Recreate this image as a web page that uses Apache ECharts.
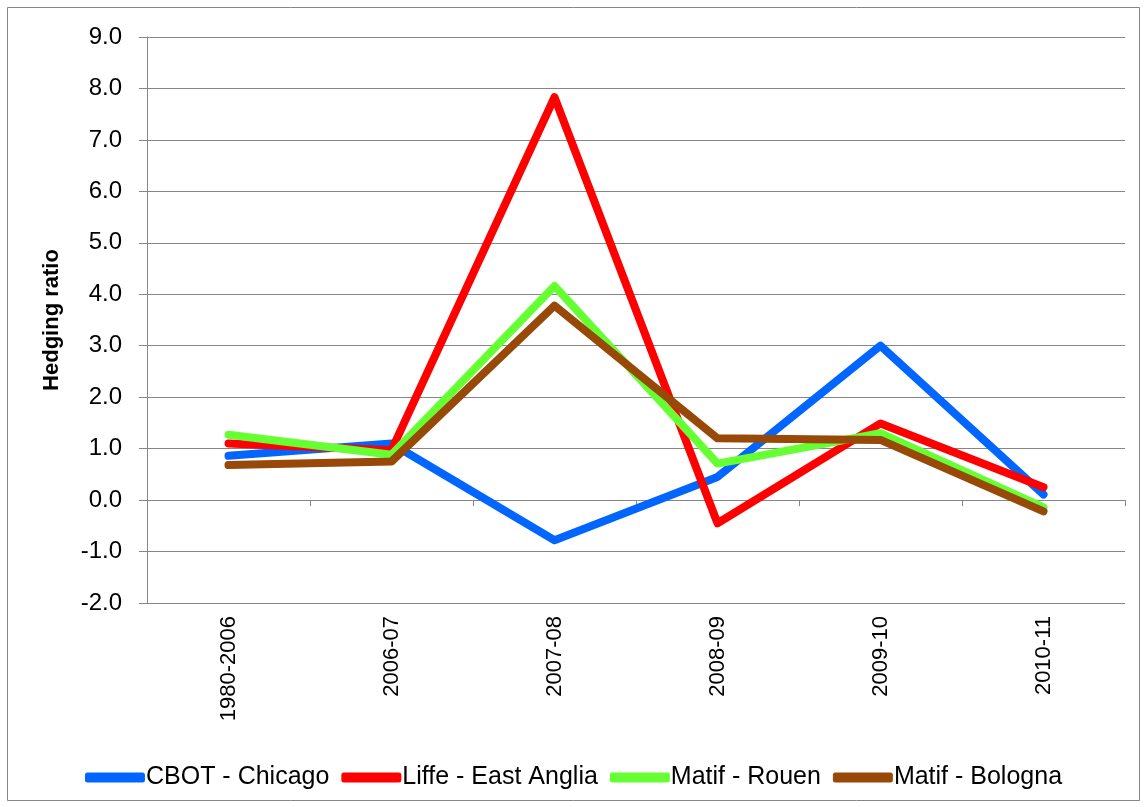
<!DOCTYPE html>
<html>
<head>
<meta charset="utf-8">
<script src="https://cdn.jsdelivr.net/npm/echarts@6/dist/echarts.min.js"></script>
<style>
  html, body { margin: 0; padding: 0; background: #fff; }
  #main { width: 1147px; height: 807px; }
</style>
</head>
<body>
<div id="main"></div>
<script>
const categories = ['1980-2006', '2006-07', '2007-08', '2008-09', '2009-10', '2010-11']
const cbotChicago = [0.86, 1.1, -0.78, 0.45, 3.0, 0.11]
const liffeEastAnglia = [1.1, 0.97, 7.83, -0.45, 1.49, 0.25]
const matifRouen = [1.27, 0.88, 4.16, 0.71, 1.3, -0.14]
const matifBologna = [0.68, 0.75, 3.78, 1.2, 1.17, -0.22]

const chart = echarts.init(document.getElementById('main'))
const font = 'Liberation Sans, Arial, sans-serif'
const grey = '#868686'

function line(name, color, data) {
  return {
    name, type: 'line', data,
    xAxisIndex: 0,
    showSymbol: false, symbol: 'none',
    lineStyle: { color, width: 8, cap: 'round', join: 'round' },
    itemStyle: { color },
    animation: false
  }
}

const option = {
  animation: false,
  graphic: [{
    type: 'rect', shape: { x: 7.5, y: 7.5, width: 1132, height: 793 },
    style: { fill: 'none', stroke: grey, lineWidth: 1 }, silent: true
  }],
  grid: { left: 147, right: 22, top: 37, bottom: 204 },
  legend: {
    top: 760, left: 'center',
    itemWidth: 60, itemHeight: 10, itemGap: 12,
    icon: 'roundRect',
    textStyle: { fontFamily: font, fontSize: 25, color: '#000', padding: [0, 0, 0, -4] },
    data: ['CBOT - Chicago', 'Liffe - East Anglia', 'Matif - Rouen', 'Matif - Bologna']
  },
  xAxis: [
    {
      type: 'category', data: categories, boundaryGap: true,
      axisLine: { onZero: true, lineStyle: { color: grey, width: 1 } },
      axisTick: { show: true, length: 6, lineStyle: { color: grey } },
      axisLabel: { show: false }
    },
    {
      type: 'category', data: categories, boundaryGap: true, position: 'bottom',
      axisLine: { show: false, onZero: false }, axisTick: { show: false },
      axisLabel: { rotate: 90, margin: 13, fontFamily: font, fontSize: 22, color: '#000' }
    }
  ],
  yAxis: {
    type: 'value', min: -2, max: 9, interval: 1,
    name: 'Hedging ratio', nameLocation: 'middle', nameGap: 84, nameRotate: 90,
    nameTextStyle: { fontFamily: font, fontSize: 22, fontWeight: 'bold', color: '#000' },
    axisLine: { show: true, lineStyle: { color: grey, width: 1 } },
    axisTick: { show: true, length: 8, lineStyle: { color: grey } },
    axisLabel: { margin: 25, fontFamily: font, fontSize: 24, color: '#000', formatter: v => v.toFixed(1) },
    splitLine: { lineStyle: { color: grey, width: 1 } }
  },
  series: [
    line('CBOT - Chicago', '#0066FF', cbotChicago),
    line('Liffe - East Anglia', '#FF0000', liffeEastAnglia),
    line('Matif - Rouen', '#66FF33', matifRouen),
    line('Matif - Bologna', '#984807', matifBologna)
  ]
}
chart.setOption(option)
</script>
</body>
</html>
